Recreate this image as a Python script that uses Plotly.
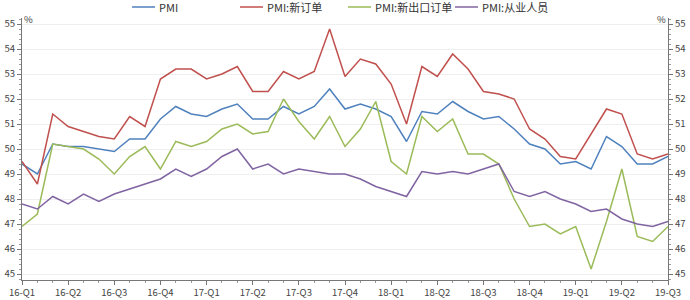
import plotly.graph_objects as go

quarters = ["16-Q1","16-Q2","16-Q3","16-Q4","17-Q1","17-Q2","17-Q3","17-Q4",
            "18-Q1","18-Q2","18-Q3","18-Q4","19-Q1","19-Q2","19-Q3"]

pmi = [49.4,49.0,50.2,50.1,50.1,50.0,49.9,50.4,50.4,51.2,51.7,51.4,
       51.3,51.6,51.8,51.2,51.2,51.7,51.4,51.7,52.4,51.6,51.8,51.6,
       51.3,50.3,51.5,51.4,51.9,51.5,51.2,51.3,50.8,50.2,50.0,49.4,
       49.5,49.2,50.5,50.1,49.4,49.4,49.7]
new_orders = [49.5,48.6,51.4,50.9,50.7,50.5,50.4,51.3,50.9,52.8,53.2,53.2,
              52.8,53.0,53.3,52.3,52.3,53.1,52.8,53.1,54.8,52.9,53.6,53.4,
              52.6,51.0,53.3,52.9,53.8,53.2,52.3,52.2,52.0,50.8,50.4,49.7,
              49.6,50.6,51.6,51.4,49.8,49.6,49.8]
export_orders = [46.9,47.4,50.2,50.1,50.0,49.6,49.0,49.7,50.1,49.2,50.3,50.1,
                 50.3,50.8,51.0,50.6,50.7,52.0,51.1,50.4,51.3,50.1,50.8,51.9,
                 49.5,49.0,51.3,50.7,51.2,49.8,49.8,49.4,48.0,46.9,47.0,46.6,
                 46.9,45.2,47.1,49.2,46.5,46.3,46.9]
employment = [47.8,47.6,48.1,47.8,48.2,47.9,48.2,48.4,48.6,48.8,49.2,48.9,
              49.2,49.7,50.0,49.2,49.4,49.0,49.2,49.1,49.0,49.0,48.8,48.5,
              48.3,48.1,49.1,49.0,49.1,49.0,49.2,49.4,48.3,48.1,48.3,48.0,
              47.8,47.5,47.6,47.2,47.0,46.9,47.1]

names = ["PMI", "PMI:新订单", "PMI:新出口订单", "PMI:从业人员"]
colors = ["#4F81BD", "#C0504D", "#9BBB59", "#8064A2"]
series = [pmi, new_orders, export_orders, employment]

months = list(range(len(pmi)))
tickvals = list(range(0, len(pmi), 3))

W, H = 690, 300
ML, MR, MT, MB = 22, 22, 18, 20
PW = W - ML - MR
PH = H - MT - MB

fig = go.Figure()
for n, c, s in zip(names, colors, series):
    fig.add_trace(go.Scatter(x=months, y=s, name=n, mode="lines",
                             line=dict(color=c, width=1.5), showlegend=False))
# invisible trace for the right axis
fig.add_trace(go.Scatter(x=[0], y=[50], yaxis="y2", showlegend=False,
                         mode="markers", marker=dict(opacity=0), hoverinfo="skip"))

yr = [44.76, 55.24]
axis_font = dict(family="Noto Sans CJK SC, DejaVu Sans", size=9.5, color="#444")
common_y = dict(range=yr, tickvals=list(range(45, 56)), showline=True,
                linecolor="#777", linewidth=1, ticks="outside", ticklen=4,
                tickcolor="#777", tickfont=axis_font, automargin=False,
                minor=dict(dtick=0.2, ticks="outside", ticklen=2, tickcolor="#999"),
                zeroline=False)

# custom legend (positions in pixels)
legend_line_x = [132, 240, 348, 455]
legend_y_px = 7
shapes = []
annotations = []
def px_x(p):
    return (p - ML) / PW
def px_y(p):
    return (H - MB - p) / PH
for n, c, lx in zip(names, colors, legend_line_x):
    shapes.append(dict(type="line", xref="paper", yref="paper",
                       x0=px_x(lx), x1=px_x(lx + 23), y0=px_y(legend_y_px), y1=px_y(legend_y_px),
                       line=dict(color=c, width=1.5)))
    annotations.append(dict(text=n, xref="paper", yref="paper", x=px_x(lx + 25),
                            y=px_y(legend_y_px), xanchor="left", yanchor="middle",
                            showarrow=False, font=dict(size=11, color="#333")))

annotations += [
    dict(text="%", x=0, xref="paper", xanchor="left", xshift=0, y=px_y(19), yref="paper",
         yanchor="middle", showarrow=False, font=dict(size=9.5, color="#444")),
    dict(text="%", x=1, xref="paper", xanchor="right", xshift=0, y=px_y(19), yref="paper",
         yanchor="middle", showarrow=False, font=dict(size=9.5, color="#444")),
]

fig.update_layout(
    width=W, height=H,
    margin=dict(l=ML, r=MR, t=MT, b=MB, autoexpand=False),
    paper_bgcolor="white", plot_bgcolor="white",
    font=dict(family="Noto Sans CJK SC, DejaVu Sans", size=11, color="#444"),
    showlegend=False,
    xaxis=dict(range=[0, len(pmi) - 1], tickvals=tickvals, ticktext=quarters,
               showline=True, linecolor="#777", ticks="outside", ticklen=4,
               tickcolor="#777", showgrid=False, zeroline=False, automargin=False,
               tickfont=axis_font,
               minor=dict(dtick=1, ticks="outside", ticklen=2, tickcolor="#999")),
    yaxis=dict(**common_y, side="left", showgrid=True, gridcolor="#EFEFEF"),
    yaxis2=dict(**common_y, side="right", overlaying="y", showgrid=False),
    shapes=shapes,
    annotations=annotations,
)

fig.write_html("out.html")
